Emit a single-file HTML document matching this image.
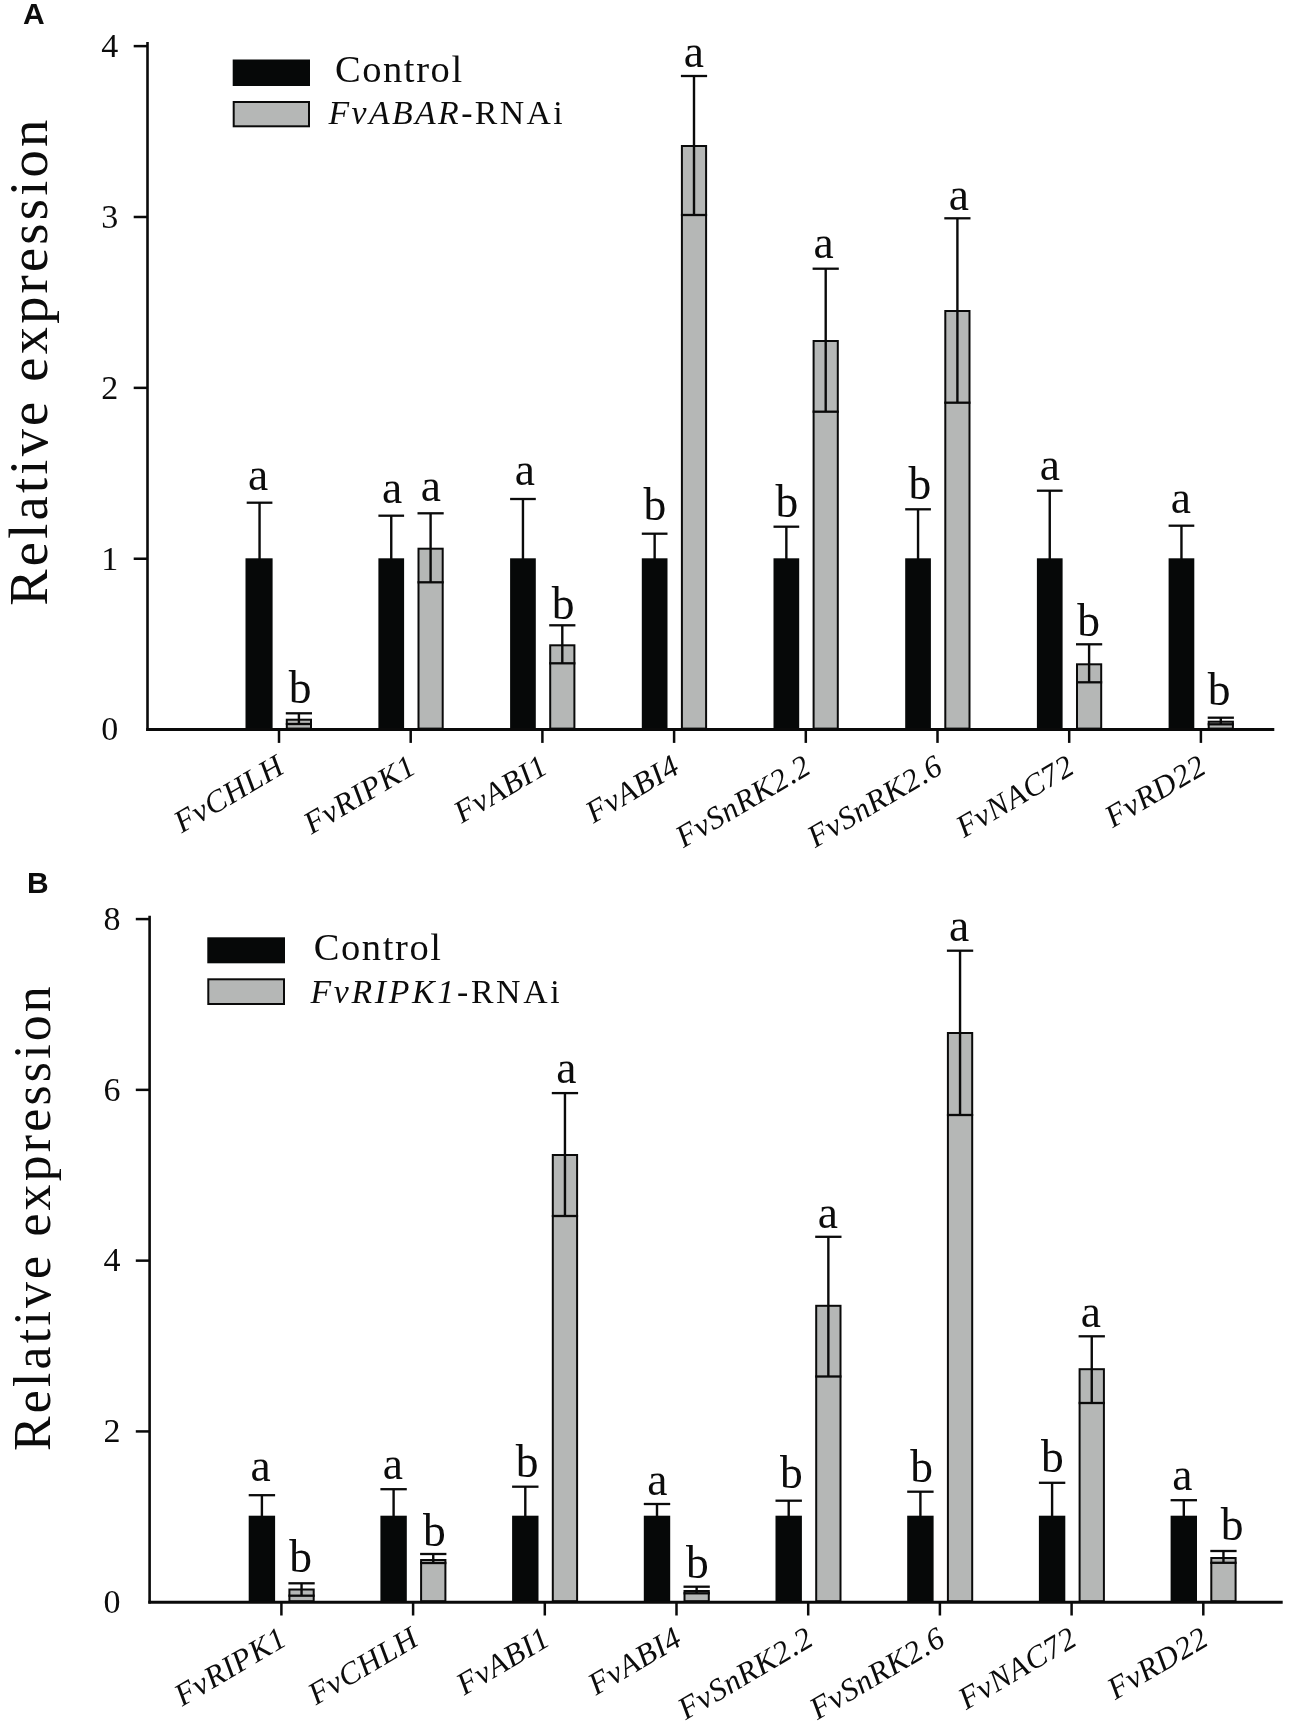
<!DOCTYPE html>
<html><head><meta charset="utf-8"><title>Figure</title>
<style>
html,body{margin:0;padding:0;background:#fff;}
body{width:1290px;height:1731px;overflow:hidden;font-family:"Liberation Serif",serif;}
svg{display:block;will-change:transform;filter:blur(0.4px);}
text{fill:#0c0c0c;}
</style></head><body>
<svg width="1290" height="1731" viewBox="0 0 1290 1731">
<rect width="1290" height="1731" fill="#ffffff"/>
<rect x="245.50" y="558.30" width="27.10" height="171.30" fill="#060808"/>
<line x1="259.55" y1="502.70" x2="259.55" y2="559.30" stroke="#0a0a0a" stroke-width="2.4"/>
<line x1="246.70" y1="502.70" x2="272.40" y2="502.70" stroke="#0a0a0a" stroke-width="2.3"/>
<rect x="286.80" y="719.70" width="24.20" height="8.90" fill="#b5b7b6" stroke="#0a0a0a" stroke-width="2.0"/>
<line x1="298.90" y1="713.30" x2="298.90" y2="724.00" stroke="#0a0a0a" stroke-width="2.4"/>
<line x1="285.80" y1="713.30" x2="312.00" y2="713.30" stroke="#0a0a0a" stroke-width="2.3"/>
<line x1="285.80" y1="724.00" x2="312.00" y2="724.00" stroke="#0a0a0a" stroke-width="2.3"/>
<text x="258.05" y="489.50" font-family="'Liberation Serif', serif" font-size="45.5" font-weight="normal" text-anchor="middle" >a</text>
<text x="300.05" y="703.30" font-family="'Liberation Serif', serif" font-size="45.5" font-weight="normal" text-anchor="middle" >b</text>
<rect x="378.40" y="558.30" width="25.70" height="171.30" fill="#060808"/>
<line x1="391.25" y1="515.70" x2="391.25" y2="559.30" stroke="#0a0a0a" stroke-width="2.4"/>
<line x1="378.40" y1="515.70" x2="404.10" y2="515.70" stroke="#0a0a0a" stroke-width="2.3"/>
<rect x="418.50" y="548.70" width="24.20" height="179.90" fill="#b5b7b6" stroke="#0a0a0a" stroke-width="2.0"/>
<line x1="430.60" y1="513.30" x2="430.60" y2="582.30" stroke="#0a0a0a" stroke-width="2.4"/>
<line x1="417.50" y1="513.30" x2="443.70" y2="513.30" stroke="#0a0a0a" stroke-width="2.3"/>
<line x1="417.50" y1="582.30" x2="443.70" y2="582.30" stroke="#0a0a0a" stroke-width="2.3"/>
<text x="392.05" y="502.90" font-family="'Liberation Serif', serif" font-size="45.5" font-weight="normal" text-anchor="middle" >a</text>
<text x="430.85" y="500.50" font-family="'Liberation Serif', serif" font-size="45.5" font-weight="normal" text-anchor="middle" >a</text>
<rect x="510.10" y="558.30" width="25.70" height="171.30" fill="#060808"/>
<line x1="522.95" y1="499.00" x2="522.95" y2="559.30" stroke="#0a0a0a" stroke-width="2.4"/>
<line x1="510.10" y1="499.00" x2="535.80" y2="499.00" stroke="#0a0a0a" stroke-width="2.3"/>
<rect x="550.20" y="645.30" width="24.20" height="83.30" fill="#b5b7b6" stroke="#0a0a0a" stroke-width="2.0"/>
<line x1="562.30" y1="625.30" x2="562.30" y2="663.30" stroke="#0a0a0a" stroke-width="2.4"/>
<line x1="549.20" y1="625.30" x2="575.40" y2="625.30" stroke="#0a0a0a" stroke-width="2.3"/>
<line x1="549.20" y1="663.30" x2="575.40" y2="663.30" stroke="#0a0a0a" stroke-width="2.3"/>
<text x="524.75" y="485.00" font-family="'Liberation Serif', serif" font-size="45.5" font-weight="normal" text-anchor="middle" >a</text>
<text x="563.05" y="618.80" font-family="'Liberation Serif', serif" font-size="45.5" font-weight="normal" text-anchor="middle" >b</text>
<rect x="641.80" y="558.30" width="25.70" height="171.30" fill="#060808"/>
<line x1="654.65" y1="533.70" x2="654.65" y2="559.30" stroke="#0a0a0a" stroke-width="2.4"/>
<line x1="641.80" y1="533.70" x2="667.50" y2="533.70" stroke="#0a0a0a" stroke-width="2.3"/>
<rect x="681.90" y="146.00" width="24.20" height="582.60" fill="#b5b7b6" stroke="#0a0a0a" stroke-width="2.0"/>
<line x1="694.00" y1="76.00" x2="694.00" y2="215.00" stroke="#0a0a0a" stroke-width="2.4"/>
<line x1="680.90" y1="76.00" x2="707.10" y2="76.00" stroke="#0a0a0a" stroke-width="2.3"/>
<line x1="680.90" y1="215.00" x2="707.10" y2="215.00" stroke="#0a0a0a" stroke-width="2.3"/>
<text x="654.95" y="519.70" font-family="'Liberation Serif', serif" font-size="45.5" font-weight="normal" text-anchor="middle" >b</text>
<text x="693.95" y="67.00" font-family="'Liberation Serif', serif" font-size="45.5" font-weight="normal" text-anchor="middle" >a</text>
<rect x="773.50" y="558.30" width="25.70" height="171.30" fill="#060808"/>
<line x1="786.35" y1="526.70" x2="786.35" y2="559.30" stroke="#0a0a0a" stroke-width="2.4"/>
<line x1="773.50" y1="526.70" x2="799.20" y2="526.70" stroke="#0a0a0a" stroke-width="2.3"/>
<rect x="813.60" y="341.00" width="24.20" height="387.60" fill="#b5b7b6" stroke="#0a0a0a" stroke-width="2.0"/>
<line x1="825.70" y1="268.70" x2="825.70" y2="411.70" stroke="#0a0a0a" stroke-width="2.4"/>
<line x1="812.60" y1="268.70" x2="838.80" y2="268.70" stroke="#0a0a0a" stroke-width="2.3"/>
<line x1="812.60" y1="411.70" x2="838.80" y2="411.70" stroke="#0a0a0a" stroke-width="2.3"/>
<text x="786.85" y="517.40" font-family="'Liberation Serif', serif" font-size="45.5" font-weight="normal" text-anchor="middle" >b</text>
<text x="823.65" y="258.20" font-family="'Liberation Serif', serif" font-size="45.5" font-weight="normal" text-anchor="middle" >a</text>
<rect x="905.20" y="558.30" width="25.70" height="171.30" fill="#060808"/>
<line x1="918.05" y1="509.30" x2="918.05" y2="559.30" stroke="#0a0a0a" stroke-width="2.4"/>
<line x1="905.20" y1="509.30" x2="930.90" y2="509.30" stroke="#0a0a0a" stroke-width="2.3"/>
<rect x="945.30" y="311.00" width="24.20" height="417.60" fill="#b5b7b6" stroke="#0a0a0a" stroke-width="2.0"/>
<line x1="957.40" y1="218.30" x2="957.40" y2="402.70" stroke="#0a0a0a" stroke-width="2.4"/>
<line x1="944.30" y1="218.30" x2="970.50" y2="218.30" stroke="#0a0a0a" stroke-width="2.3"/>
<line x1="944.30" y1="402.70" x2="970.50" y2="402.70" stroke="#0a0a0a" stroke-width="2.3"/>
<text x="919.75" y="498.60" font-family="'Liberation Serif', serif" font-size="45.5" font-weight="normal" text-anchor="middle" >b</text>
<text x="958.85" y="210.10" font-family="'Liberation Serif', serif" font-size="45.5" font-weight="normal" text-anchor="middle" >a</text>
<rect x="1036.90" y="558.30" width="25.70" height="171.30" fill="#060808"/>
<line x1="1049.75" y1="490.70" x2="1049.75" y2="559.30" stroke="#0a0a0a" stroke-width="2.4"/>
<line x1="1036.90" y1="490.70" x2="1062.60" y2="490.70" stroke="#0a0a0a" stroke-width="2.3"/>
<rect x="1077.00" y="664.30" width="24.20" height="64.30" fill="#b5b7b6" stroke="#0a0a0a" stroke-width="2.0"/>
<line x1="1089.10" y1="644.30" x2="1089.10" y2="682.30" stroke="#0a0a0a" stroke-width="2.4"/>
<line x1="1076.00" y1="644.30" x2="1102.20" y2="644.30" stroke="#0a0a0a" stroke-width="2.3"/>
<line x1="1076.00" y1="682.30" x2="1102.20" y2="682.30" stroke="#0a0a0a" stroke-width="2.3"/>
<text x="1049.75" y="479.50" font-family="'Liberation Serif', serif" font-size="45.5" font-weight="normal" text-anchor="middle" >a</text>
<text x="1088.55" y="636.10" font-family="'Liberation Serif', serif" font-size="45.5" font-weight="normal" text-anchor="middle" >b</text>
<rect x="1168.60" y="558.30" width="25.70" height="171.30" fill="#060808"/>
<line x1="1181.45" y1="525.70" x2="1181.45" y2="559.30" stroke="#0a0a0a" stroke-width="2.4"/>
<line x1="1168.60" y1="525.70" x2="1194.30" y2="525.70" stroke="#0a0a0a" stroke-width="2.3"/>
<rect x="1208.70" y="721.70" width="24.20" height="6.90" fill="#b5b7b6" stroke="#0a0a0a" stroke-width="2.0"/>
<line x1="1220.80" y1="717.70" x2="1220.80" y2="724.30" stroke="#0a0a0a" stroke-width="2.4"/>
<line x1="1207.70" y1="717.70" x2="1233.90" y2="717.70" stroke="#0a0a0a" stroke-width="2.3"/>
<line x1="1207.70" y1="724.30" x2="1233.90" y2="724.30" stroke="#0a0a0a" stroke-width="2.3"/>
<text x="1180.75" y="513.40" font-family="'Liberation Serif', serif" font-size="45.5" font-weight="normal" text-anchor="middle" >a</text>
<text x="1219.05" y="705.40" font-family="'Liberation Serif', serif" font-size="45.5" font-weight="normal" text-anchor="middle" >b</text>
<line x1="147.50" y1="42.00" x2="147.50" y2="730.90" stroke="#0a0a0a" stroke-width="2.6"/>
<line x1="146.20" y1="729.60" x2="1274.30" y2="729.60" stroke="#0a0a0a" stroke-width="3.0"/>
<text x="118.30" y="740.40" font-family="'Liberation Serif', serif" font-size="34" font-weight="normal" text-anchor="end" >0</text>
<line x1="133.70" y1="558.73" x2="147.50" y2="558.73" stroke="#0a0a0a" stroke-width="2.5"/>
<text x="118.30" y="569.53" font-family="'Liberation Serif', serif" font-size="34" font-weight="normal" text-anchor="end" >1</text>
<line x1="133.70" y1="387.86" x2="147.50" y2="387.86" stroke="#0a0a0a" stroke-width="2.5"/>
<text x="118.30" y="398.66" font-family="'Liberation Serif', serif" font-size="34" font-weight="normal" text-anchor="end" >2</text>
<line x1="133.70" y1="216.99" x2="147.50" y2="216.99" stroke="#0a0a0a" stroke-width="2.5"/>
<text x="118.30" y="227.79" font-family="'Liberation Serif', serif" font-size="34" font-weight="normal" text-anchor="end" >3</text>
<line x1="133.70" y1="46.12" x2="147.50" y2="46.12" stroke="#0a0a0a" stroke-width="2.5"/>
<text x="118.30" y="56.92" font-family="'Liberation Serif', serif" font-size="34" font-weight="normal" text-anchor="end" >4</text>
<line x1="279.00" y1="729.60" x2="279.00" y2="742.90" stroke="#0a0a0a" stroke-width="2.5"/>
<text x="286.50" y="771.90" font-family="'Liberation Serif', serif" font-size="31.5" font-weight="normal" text-anchor="end" font-style="italic" letter-spacing="0.7" transform="rotate(-30.5 286.50 771.90)" >FvCHLH</text>
<line x1="410.70" y1="729.60" x2="410.70" y2="742.90" stroke="#0a0a0a" stroke-width="2.5"/>
<text x="418.20" y="771.90" font-family="'Liberation Serif', serif" font-size="31.5" font-weight="normal" text-anchor="end" font-style="italic" letter-spacing="0.7" transform="rotate(-30.5 418.20 771.90)" >FvRIPK1</text>
<line x1="542.40" y1="729.60" x2="542.40" y2="742.90" stroke="#0a0a0a" stroke-width="2.5"/>
<text x="549.90" y="771.90" font-family="'Liberation Serif', serif" font-size="31.5" font-weight="normal" text-anchor="end" font-style="italic" letter-spacing="0.7" transform="rotate(-30.5 549.90 771.90)" >FvABI1</text>
<line x1="674.10" y1="729.60" x2="674.10" y2="742.90" stroke="#0a0a0a" stroke-width="2.5"/>
<text x="681.60" y="771.90" font-family="'Liberation Serif', serif" font-size="31.5" font-weight="normal" text-anchor="end" font-style="italic" letter-spacing="0.7" transform="rotate(-30.5 681.60 771.90)" >FvABI4</text>
<line x1="805.80" y1="729.60" x2="805.80" y2="742.90" stroke="#0a0a0a" stroke-width="2.5"/>
<text x="813.30" y="771.90" font-family="'Liberation Serif', serif" font-size="31.5" font-weight="normal" text-anchor="end" font-style="italic" letter-spacing="0.7" transform="rotate(-30.5 813.30 771.90)" >FvSnRK2.2</text>
<line x1="937.50" y1="729.60" x2="937.50" y2="742.90" stroke="#0a0a0a" stroke-width="2.5"/>
<text x="945.00" y="771.90" font-family="'Liberation Serif', serif" font-size="31.5" font-weight="normal" text-anchor="end" font-style="italic" letter-spacing="0.7" transform="rotate(-30.5 945.00 771.90)" >FvSnRK2.6</text>
<line x1="1069.20" y1="729.60" x2="1069.20" y2="742.90" stroke="#0a0a0a" stroke-width="2.5"/>
<text x="1076.70" y="771.90" font-family="'Liberation Serif', serif" font-size="31.5" font-weight="normal" text-anchor="end" font-style="italic" letter-spacing="0.7" transform="rotate(-30.5 1076.70 771.90)" >FvNAC72</text>
<line x1="1200.90" y1="729.60" x2="1200.90" y2="742.90" stroke="#0a0a0a" stroke-width="2.5"/>
<text x="1208.40" y="771.90" font-family="'Liberation Serif', serif" font-size="31.5" font-weight="normal" text-anchor="end" font-style="italic" letter-spacing="0.7" transform="rotate(-30.5 1208.40 771.90)" >FvRD22</text>
<rect x="232.70" y="59.50" width="77.30" height="26.50" fill="#060808"/>
<rect x="233.70" y="102.00" width="75.30" height="24.30" fill="#b5b7b6" stroke="#0a0a0a" stroke-width="2.0"/>
<text x="334.90" y="81.60" font-family="'Liberation Serif', serif" font-size="38.5" font-weight="normal" text-anchor="start" letter-spacing="1.6" >Control</text>
<text x="328.50" y="124.20" font-family="'Liberation Serif', serif" font-size="33.8" font-weight="normal" text-anchor="start" letter-spacing="2.4" ><tspan font-style="italic">FvABAR</tspan>-RNAi</text>
<text x="47.20" y="605.70" font-family="'Liberation Serif', serif" font-size="54.5" font-weight="normal" text-anchor="start" letter-spacing="3.2" transform="rotate(-90 47.20 605.70)" >Relative expression</text>
<text x="23.00" y="24.00" font-family="'Liberation Sans', sans-serif" font-size="30" font-weight="bold" text-anchor="start" >A</text>
<rect x="248.70" y="1515.70" width="26.40" height="86.50" fill="#060808"/>
<line x1="261.90" y1="1495.20" x2="261.90" y2="1516.70" stroke="#0a0a0a" stroke-width="2.4"/>
<line x1="248.70" y1="1495.20" x2="275.10" y2="1495.20" stroke="#0a0a0a" stroke-width="2.3"/>
<rect x="289.40" y="1589.50" width="24.30" height="11.70" fill="#b5b7b6" stroke="#0a0a0a" stroke-width="2.0"/>
<line x1="301.55" y1="1583.30" x2="301.55" y2="1595.70" stroke="#0a0a0a" stroke-width="2.4"/>
<line x1="288.40" y1="1583.30" x2="314.70" y2="1583.30" stroke="#0a0a0a" stroke-width="2.3"/>
<line x1="288.40" y1="1595.70" x2="314.70" y2="1595.70" stroke="#0a0a0a" stroke-width="2.3"/>
<text x="260.55" y="1480.70" font-family="'Liberation Serif', serif" font-size="45.5" font-weight="normal" text-anchor="middle" >a</text>
<text x="300.65" y="1571.80" font-family="'Liberation Serif', serif" font-size="45.5" font-weight="normal" text-anchor="middle" >b</text>
<rect x="380.40" y="1515.70" width="26.40" height="86.50" fill="#060808"/>
<line x1="393.60" y1="1489.20" x2="393.60" y2="1516.70" stroke="#0a0a0a" stroke-width="2.4"/>
<line x1="380.40" y1="1489.20" x2="406.80" y2="1489.20" stroke="#0a0a0a" stroke-width="2.3"/>
<rect x="421.10" y="1560.00" width="24.30" height="41.20" fill="#b5b7b6" stroke="#0a0a0a" stroke-width="2.0"/>
<line x1="433.25" y1="1554.00" x2="433.25" y2="1563.00" stroke="#0a0a0a" stroke-width="2.4"/>
<line x1="420.10" y1="1554.00" x2="446.40" y2="1554.00" stroke="#0a0a0a" stroke-width="2.3"/>
<line x1="420.10" y1="1563.00" x2="446.40" y2="1563.00" stroke="#0a0a0a" stroke-width="2.3"/>
<text x="392.75" y="1479.00" font-family="'Liberation Serif', serif" font-size="45.5" font-weight="normal" text-anchor="middle" >a</text>
<text x="434.35" y="1545.80" font-family="'Liberation Serif', serif" font-size="45.5" font-weight="normal" text-anchor="middle" >b</text>
<rect x="512.10" y="1515.70" width="26.40" height="86.50" fill="#060808"/>
<line x1="525.30" y1="1486.70" x2="525.30" y2="1516.70" stroke="#0a0a0a" stroke-width="2.4"/>
<line x1="512.10" y1="1486.70" x2="538.50" y2="1486.70" stroke="#0a0a0a" stroke-width="2.3"/>
<rect x="552.80" y="1155.00" width="24.30" height="446.20" fill="#b5b7b6" stroke="#0a0a0a" stroke-width="2.0"/>
<line x1="564.95" y1="1093.10" x2="564.95" y2="1216.00" stroke="#0a0a0a" stroke-width="2.4"/>
<line x1="551.80" y1="1093.10" x2="578.10" y2="1093.10" stroke="#0a0a0a" stroke-width="2.3"/>
<line x1="551.80" y1="1216.00" x2="578.10" y2="1216.00" stroke="#0a0a0a" stroke-width="2.3"/>
<text x="527.05" y="1476.90" font-family="'Liberation Serif', serif" font-size="45.5" font-weight="normal" text-anchor="middle" >b</text>
<text x="566.35" y="1083.00" font-family="'Liberation Serif', serif" font-size="45.5" font-weight="normal" text-anchor="middle" >a</text>
<rect x="643.80" y="1515.70" width="26.40" height="86.50" fill="#060808"/>
<line x1="657.00" y1="1504.00" x2="657.00" y2="1516.70" stroke="#0a0a0a" stroke-width="2.4"/>
<line x1="643.80" y1="1504.00" x2="670.20" y2="1504.00" stroke="#0a0a0a" stroke-width="2.3"/>
<rect x="684.50" y="1591.00" width="24.30" height="10.20" fill="#b5b7b6" stroke="#0a0a0a" stroke-width="2.0"/>
<line x1="696.65" y1="1586.70" x2="696.65" y2="1593.30" stroke="#0a0a0a" stroke-width="2.4"/>
<line x1="683.50" y1="1586.70" x2="709.80" y2="1586.70" stroke="#0a0a0a" stroke-width="2.3"/>
<line x1="683.50" y1="1593.30" x2="709.80" y2="1593.30" stroke="#0a0a0a" stroke-width="2.3"/>
<text x="657.25" y="1495.00" font-family="'Liberation Serif', serif" font-size="45.5" font-weight="normal" text-anchor="middle" >a</text>
<text x="697.25" y="1577.70" font-family="'Liberation Serif', serif" font-size="45.5" font-weight="normal" text-anchor="middle" >b</text>
<rect x="775.50" y="1515.70" width="26.40" height="86.50" fill="#060808"/>
<line x1="788.70" y1="1500.70" x2="788.70" y2="1516.70" stroke="#0a0a0a" stroke-width="2.4"/>
<line x1="775.50" y1="1500.70" x2="801.90" y2="1500.70" stroke="#0a0a0a" stroke-width="2.3"/>
<rect x="816.20" y="1305.80" width="24.30" height="295.40" fill="#b5b7b6" stroke="#0a0a0a" stroke-width="2.0"/>
<line x1="828.35" y1="1236.80" x2="828.35" y2="1376.50" stroke="#0a0a0a" stroke-width="2.4"/>
<line x1="815.20" y1="1236.80" x2="841.50" y2="1236.80" stroke="#0a0a0a" stroke-width="2.3"/>
<line x1="815.20" y1="1376.50" x2="841.50" y2="1376.50" stroke="#0a0a0a" stroke-width="2.3"/>
<text x="791.35" y="1488.40" font-family="'Liberation Serif', serif" font-size="45.5" font-weight="normal" text-anchor="middle" >b</text>
<text x="827.95" y="1227.80" font-family="'Liberation Serif', serif" font-size="45.5" font-weight="normal" text-anchor="middle" >a</text>
<rect x="907.20" y="1515.70" width="26.40" height="86.50" fill="#060808"/>
<line x1="920.40" y1="1491.70" x2="920.40" y2="1516.70" stroke="#0a0a0a" stroke-width="2.4"/>
<line x1="907.20" y1="1491.70" x2="933.60" y2="1491.70" stroke="#0a0a0a" stroke-width="2.3"/>
<rect x="947.90" y="1033.00" width="24.30" height="568.20" fill="#b5b7b6" stroke="#0a0a0a" stroke-width="2.0"/>
<line x1="960.05" y1="950.70" x2="960.05" y2="1115.00" stroke="#0a0a0a" stroke-width="2.4"/>
<line x1="946.90" y1="950.70" x2="973.20" y2="950.70" stroke="#0a0a0a" stroke-width="2.3"/>
<line x1="946.90" y1="1115.00" x2="973.20" y2="1115.00" stroke="#0a0a0a" stroke-width="2.3"/>
<text x="921.55" y="1481.90" font-family="'Liberation Serif', serif" font-size="45.5" font-weight="normal" text-anchor="middle" >b</text>
<text x="959.15" y="940.90" font-family="'Liberation Serif', serif" font-size="45.5" font-weight="normal" text-anchor="middle" >a</text>
<rect x="1038.90" y="1515.70" width="26.40" height="86.50" fill="#060808"/>
<line x1="1052.10" y1="1482.80" x2="1052.10" y2="1516.70" stroke="#0a0a0a" stroke-width="2.4"/>
<line x1="1038.90" y1="1482.80" x2="1065.30" y2="1482.80" stroke="#0a0a0a" stroke-width="2.3"/>
<rect x="1079.60" y="1369.20" width="24.30" height="232.00" fill="#b5b7b6" stroke="#0a0a0a" stroke-width="2.0"/>
<line x1="1091.75" y1="1336.30" x2="1091.75" y2="1403.00" stroke="#0a0a0a" stroke-width="2.4"/>
<line x1="1078.60" y1="1336.30" x2="1104.90" y2="1336.30" stroke="#0a0a0a" stroke-width="2.3"/>
<line x1="1078.60" y1="1403.00" x2="1104.90" y2="1403.00" stroke="#0a0a0a" stroke-width="2.3"/>
<text x="1052.35" y="1472.10" font-family="'Liberation Serif', serif" font-size="45.5" font-weight="normal" text-anchor="middle" >b</text>
<text x="1090.85" y="1326.50" font-family="'Liberation Serif', serif" font-size="45.5" font-weight="normal" text-anchor="middle" >a</text>
<rect x="1170.60" y="1515.70" width="26.40" height="86.50" fill="#060808"/>
<line x1="1183.80" y1="1500.20" x2="1183.80" y2="1516.70" stroke="#0a0a0a" stroke-width="2.4"/>
<line x1="1170.60" y1="1500.20" x2="1197.00" y2="1500.20" stroke="#0a0a0a" stroke-width="2.3"/>
<rect x="1211.30" y="1558.00" width="24.30" height="43.20" fill="#b5b7b6" stroke="#0a0a0a" stroke-width="2.0"/>
<line x1="1223.45" y1="1551.00" x2="1223.45" y2="1562.80" stroke="#0a0a0a" stroke-width="2.4"/>
<line x1="1210.30" y1="1551.00" x2="1236.60" y2="1551.00" stroke="#0a0a0a" stroke-width="2.3"/>
<line x1="1210.30" y1="1562.80" x2="1236.60" y2="1562.80" stroke="#0a0a0a" stroke-width="2.3"/>
<text x="1182.45" y="1490.00" font-family="'Liberation Serif', serif" font-size="45.5" font-weight="normal" text-anchor="middle" >a</text>
<text x="1232.05" y="1539.80" font-family="'Liberation Serif', serif" font-size="45.5" font-weight="normal" text-anchor="middle" >b</text>
<line x1="149.60" y1="915.80" x2="149.60" y2="1603.50" stroke="#0a0a0a" stroke-width="2.6"/>
<line x1="148.30" y1="1602.20" x2="1282.70" y2="1602.20" stroke="#0a0a0a" stroke-width="3.0"/>
<text x="120.50" y="1613.00" font-family="'Liberation Serif', serif" font-size="34" font-weight="normal" text-anchor="end" >0</text>
<line x1="135.80" y1="1431.42" x2="149.60" y2="1431.42" stroke="#0a0a0a" stroke-width="2.5"/>
<text x="120.50" y="1442.22" font-family="'Liberation Serif', serif" font-size="34" font-weight="normal" text-anchor="end" >2</text>
<line x1="135.80" y1="1260.64" x2="149.60" y2="1260.64" stroke="#0a0a0a" stroke-width="2.5"/>
<text x="120.50" y="1271.44" font-family="'Liberation Serif', serif" font-size="34" font-weight="normal" text-anchor="end" >4</text>
<line x1="135.80" y1="1089.86" x2="149.60" y2="1089.86" stroke="#0a0a0a" stroke-width="2.5"/>
<text x="120.50" y="1100.66" font-family="'Liberation Serif', serif" font-size="34" font-weight="normal" text-anchor="end" >6</text>
<line x1="135.80" y1="919.08" x2="149.60" y2="919.08" stroke="#0a0a0a" stroke-width="2.5"/>
<text x="120.50" y="929.88" font-family="'Liberation Serif', serif" font-size="34" font-weight="normal" text-anchor="end" >8</text>
<line x1="281.40" y1="1602.20" x2="281.40" y2="1615.50" stroke="#0a0a0a" stroke-width="2.5"/>
<text x="288.90" y="1643.90" font-family="'Liberation Serif', serif" font-size="31.5" font-weight="normal" text-anchor="end" font-style="italic" letter-spacing="0.7" transform="rotate(-30.5 288.90 1643.90)" >FvRIPK1</text>
<line x1="413.10" y1="1602.20" x2="413.10" y2="1615.50" stroke="#0a0a0a" stroke-width="2.5"/>
<text x="420.60" y="1643.90" font-family="'Liberation Serif', serif" font-size="31.5" font-weight="normal" text-anchor="end" font-style="italic" letter-spacing="0.7" transform="rotate(-30.5 420.60 1643.90)" >FvCHLH</text>
<line x1="544.80" y1="1602.20" x2="544.80" y2="1615.50" stroke="#0a0a0a" stroke-width="2.5"/>
<text x="552.30" y="1643.90" font-family="'Liberation Serif', serif" font-size="31.5" font-weight="normal" text-anchor="end" font-style="italic" letter-spacing="0.7" transform="rotate(-30.5 552.30 1643.90)" >FvABI1</text>
<line x1="676.50" y1="1602.20" x2="676.50" y2="1615.50" stroke="#0a0a0a" stroke-width="2.5"/>
<text x="684.00" y="1643.90" font-family="'Liberation Serif', serif" font-size="31.5" font-weight="normal" text-anchor="end" font-style="italic" letter-spacing="0.7" transform="rotate(-30.5 684.00 1643.90)" >FvABI4</text>
<line x1="808.20" y1="1602.20" x2="808.20" y2="1615.50" stroke="#0a0a0a" stroke-width="2.5"/>
<text x="815.70" y="1643.90" font-family="'Liberation Serif', serif" font-size="31.5" font-weight="normal" text-anchor="end" font-style="italic" letter-spacing="0.7" transform="rotate(-30.5 815.70 1643.90)" >FvSnRK2.2</text>
<line x1="939.90" y1="1602.20" x2="939.90" y2="1615.50" stroke="#0a0a0a" stroke-width="2.5"/>
<text x="947.40" y="1643.90" font-family="'Liberation Serif', serif" font-size="31.5" font-weight="normal" text-anchor="end" font-style="italic" letter-spacing="0.7" transform="rotate(-30.5 947.40 1643.90)" >FvSnRK2.6</text>
<line x1="1071.60" y1="1602.20" x2="1071.60" y2="1615.50" stroke="#0a0a0a" stroke-width="2.5"/>
<text x="1079.10" y="1643.90" font-family="'Liberation Serif', serif" font-size="31.5" font-weight="normal" text-anchor="end" font-style="italic" letter-spacing="0.7" transform="rotate(-30.5 1079.10 1643.90)" >FvNAC72</text>
<line x1="1203.30" y1="1602.20" x2="1203.30" y2="1615.50" stroke="#0a0a0a" stroke-width="2.5"/>
<text x="1210.80" y="1643.90" font-family="'Liberation Serif', serif" font-size="31.5" font-weight="normal" text-anchor="end" font-style="italic" letter-spacing="0.7" transform="rotate(-30.5 1210.80 1643.90)" >FvRD22</text>
<rect x="207.30" y="937.30" width="77.70" height="26.00" fill="#060808"/>
<rect x="208.30" y="979.30" width="75.70" height="24.70" fill="#b5b7b6" stroke="#0a0a0a" stroke-width="2.0"/>
<text x="313.70" y="960.10" font-family="'Liberation Serif', serif" font-size="38.5" font-weight="normal" text-anchor="start" letter-spacing="1.6" >Control</text>
<text x="310.40" y="1002.70" font-family="'Liberation Serif', serif" font-size="33.8" font-weight="normal" text-anchor="start" letter-spacing="2.7" ><tspan font-style="italic">FvRIPK1</tspan>-RNAi</text>
<text x="49.90" y="1450.90" font-family="'Liberation Serif', serif" font-size="51.8" font-weight="normal" text-anchor="start" letter-spacing="3.2" transform="rotate(-90 49.90 1450.90)" >Relative expression</text>
<text x="27.00" y="893.00" font-family="'Liberation Sans', sans-serif" font-size="30" font-weight="bold" text-anchor="start" >B</text>
</svg>
</body></html>
